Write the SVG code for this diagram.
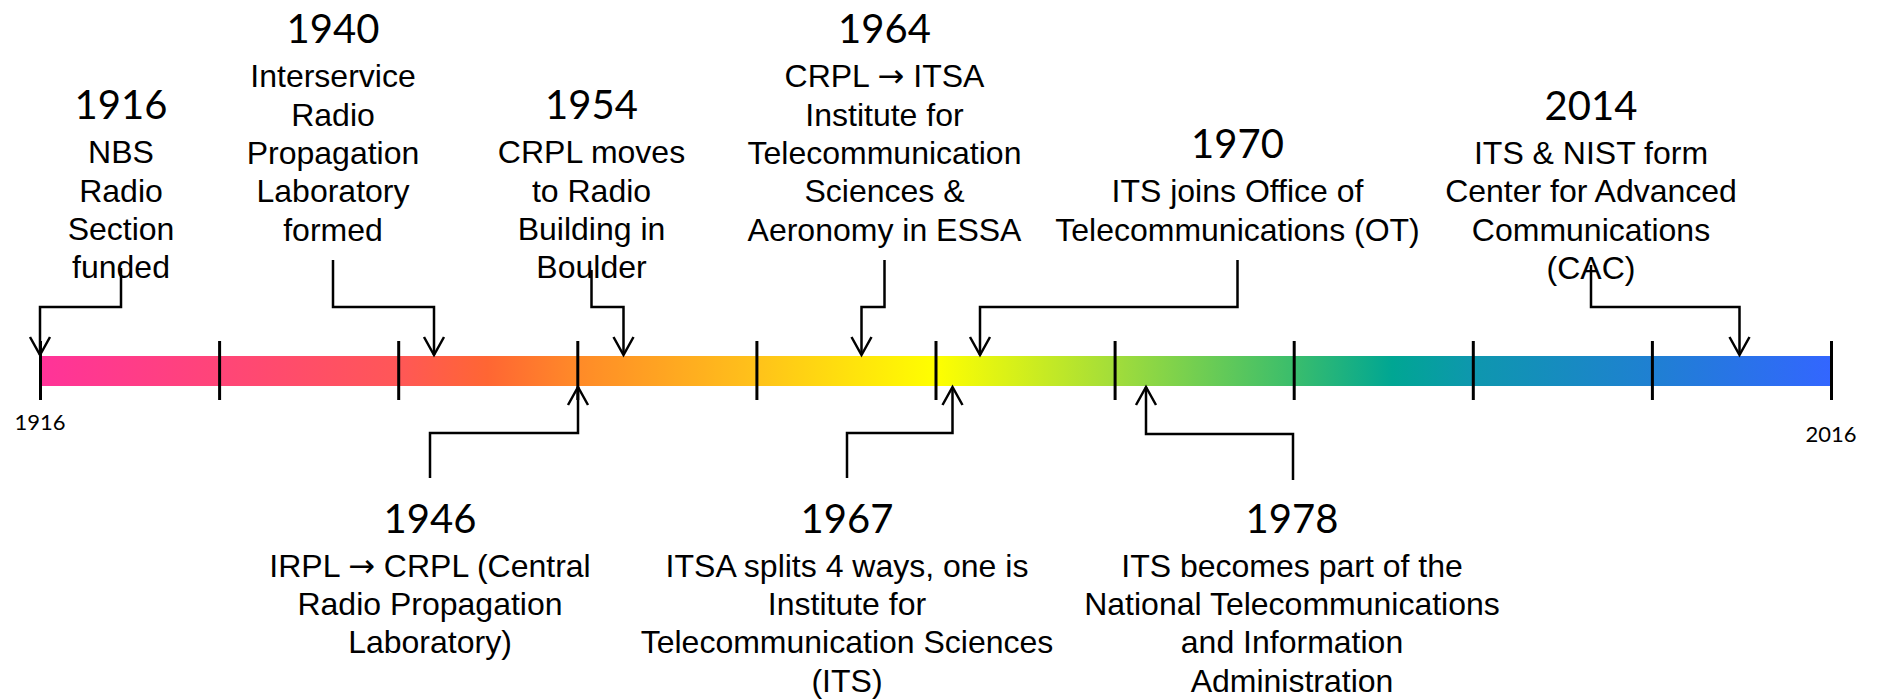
<svg xmlns="http://www.w3.org/2000/svg" width="1877" height="699" viewBox="0 0 1877 699">
  <style>
    .yr { font-family: Lato, "Open Sans", sans-serif; font-size: 40px; fill: #000; text-anchor: middle; }
    .txt { font-family: "Liberation Sans", Arial, sans-serif; font-size: 32px; fill: #000; text-anchor: middle; }
    .sym { font-family: "DejaVu Sans", sans-serif; }
    .axis { font-family: Lato, "Open Sans", sans-serif; font-size: 22px; fill: #000; text-anchor: middle; }
    .tick { stroke: #000; stroke-width: 3; }
    .conn { fill: none; stroke: #000; stroke-width: 2.5; marker-end: url(#arrow); }
  </style>
  <defs>
    <linearGradient id="spectrum" x1="40" y1="0" x2="1831" y2="0" gradientUnits="userSpaceOnUse">
      <stop offset="0" stop-color="#FF3399"/>
      <stop offset="0.2" stop-color="#FF5757"/>
      <stop offset="0.25" stop-color="#FF6633"/>
      <stop offset="0.3" stop-color="#FF8A28"/>
      <stop offset="0.4" stop-color="#FFC21A"/>
      <stop offset="0.5" stop-color="#FFFF00"/>
      <stop offset="0.6" stop-color="#A2DD3A"/>
      <stop offset="0.7" stop-color="#3ABD6C"/>
      <stop offset="0.755" stop-color="#00A693"/>
      <stop offset="0.8" stop-color="#0E97AE"/>
      <stop offset="0.9" stop-color="#1F80D2"/>
      <stop offset="1" stop-color="#3366FF"/>
    </linearGradient>
    <marker id="arrow" markerUnits="userSpaceOnUse" markerWidth="24" markerHeight="24" viewBox="-20 -12 22 24" refX="0" refY="0" orient="auto">
      <path d="M-18,-10 L0,0 L-18,10" fill="none" stroke="#000" stroke-width="2.5"/>
    </marker>
  </defs>

  <!-- timeline bar with decade ticks -->
  <g id="timeline">
    <rect x="40" y="356" width="1791" height="30" fill="url(#spectrum)"/>
    <line class="tick" x1="40.5" y1="341" x2="40.5" y2="400"/>
    <line class="tick" x1="219.6" y1="341" x2="219.6" y2="400"/>
    <line class="tick" x1="398.7" y1="341" x2="398.7" y2="400"/>
    <line class="tick" x1="577.8" y1="341" x2="577.8" y2="400"/>
    <line class="tick" x1="756.9" y1="341" x2="756.9" y2="400"/>
    <line class="tick" x1="936" y1="341" x2="936" y2="400"/>
    <line class="tick" x1="1115.1" y1="341" x2="1115.1" y2="400"/>
    <line class="tick" x1="1294.2" y1="341" x2="1294.2" y2="400"/>
    <line class="tick" x1="1473.3" y1="341" x2="1473.3" y2="400"/>
    <line class="tick" x1="1652.4" y1="341" x2="1652.4" y2="400"/>
    <line class="tick" x1="1831.5" y1="341" x2="1831.5" y2="400"/>
    <text class="axis" x="40" y="430">1916</text>
    <text class="axis" x="1831" y="442">2016</text>
  </g>

  <!-- elbow connectors from each event to the bar -->
  <g id="connectors">
    <path class="conn" d="M121,268 V307 H40 V355"/>
    <path class="conn" d="M333,260 V307 H434 V355"/>
    <path class="conn" d="M591.5,270 V307 H623.5 V355"/>
    <path class="conn" d="M884.5,260 V307 H861.5 V355"/>
    <path class="conn" d="M1237.5,260 V307 H980 V355"/>
    <path class="conn" d="M1591,265 V307 H1739.5 V355"/>
    <path class="conn" d="M430,478 V433 H578 V387"/>
    <path class="conn" d="M847,478 V433 H952.5 V387"/>
    <path class="conn" d="M1293,480 V434 H1146 V387"/>
  </g>

  <g id="event-1916">
    <text class="yr" x="121" y="119">1916</text>
    <text class="txt" x="121" y="163.3">NBS</text>
    <text class="txt" x="121" y="201.6">Radio</text>
    <text class="txt" x="121" y="239.9">Section</text>
    <text class="txt" x="121" y="278.2">funded</text>
  </g>

  <g id="event-1940">
    <text class="yr" x="333" y="42.7">1940</text>
    <text class="txt" x="333" y="87.3">Interservice</text>
    <text class="txt" x="333" y="125.6">Radio</text>
    <text class="txt" x="333" y="163.9">Propagation</text>
    <text class="txt" x="333" y="202.2">Laboratory</text>
    <text class="txt" x="333" y="240.5">formed</text>
  </g>

  <g id="event-1954">
    <text class="yr" x="591.5" y="119">1954</text>
    <text class="txt" x="591.5" y="163.3">CRPL moves</text>
    <text class="txt" x="591.5" y="201.6">to Radio</text>
    <text class="txt" x="591.5" y="239.9">Building in</text>
    <text class="txt" x="591.5" y="278.2">Boulder</text>
  </g>

  <g id="event-1964">
    <text class="yr" x="884.5" y="42.7">1964</text>
    <text class="txt" x="884.5" y="87.3">CRPL <tspan class="sym">→</tspan> ITSA</text>
    <text class="txt" x="884.5" y="125.6">Institute for</text>
    <text class="txt" x="884.5" y="163.9">Telecommunication</text>
    <text class="txt" x="884.5" y="202.2">Sciences &amp;</text>
    <text class="txt" x="884.5" y="240.5">Aeronomy in ESSA</text>
  </g>

  <g id="event-1970">
    <text class="yr" x="1237.5" y="158.3">1970</text>
    <text class="txt" x="1237.5" y="202.2">ITS joins Office of</text>
    <text class="txt" x="1237.5" y="240.5">Telecommunications (OT)</text>
  </g>

  <g id="event-2014">
    <text class="yr" x="1591" y="120">2014</text>
    <text class="txt" x="1591" y="164.3">ITS &amp; NIST form</text>
    <text class="txt" x="1591" y="202.4">Center for Advanced</text>
    <text class="txt" x="1591" y="240.5">Communications</text>
    <text class="txt" x="1591" y="278.6">(CAC)</text>
  </g>

  <g id="event-1946">
    <text class="yr" x="430" y="532.7">1946</text>
    <text class="txt" x="430" y="576.7">IRPL <tspan class="sym">→</tspan> CRPL (Central</text>
    <text class="txt" x="430" y="615">Radio Propagation</text>
    <text class="txt" x="430" y="653.3">Laboratory)</text>
  </g>

  <g id="event-1967">
    <text class="yr" x="847" y="532.7">1967</text>
    <text class="txt" x="847" y="576.7">ITSA splits 4 ways, one is</text>
    <text class="txt" x="847" y="615">Institute for</text>
    <text class="txt" x="847" y="653.3">Telecommunication Sciences</text>
    <text class="txt" x="847" y="691.6">(ITS)</text>
  </g>

  <g id="event-1978">
    <text class="yr" x="1292" y="532.7">1978</text>
    <text class="txt" x="1292" y="576.7">ITS becomes part of the</text>
    <text class="txt" x="1292" y="615">National Telecommunications</text>
    <text class="txt" x="1292" y="653.3">and Information</text>
    <text class="txt" x="1292" y="691.6">Administration</text>
  </g>
</svg>
